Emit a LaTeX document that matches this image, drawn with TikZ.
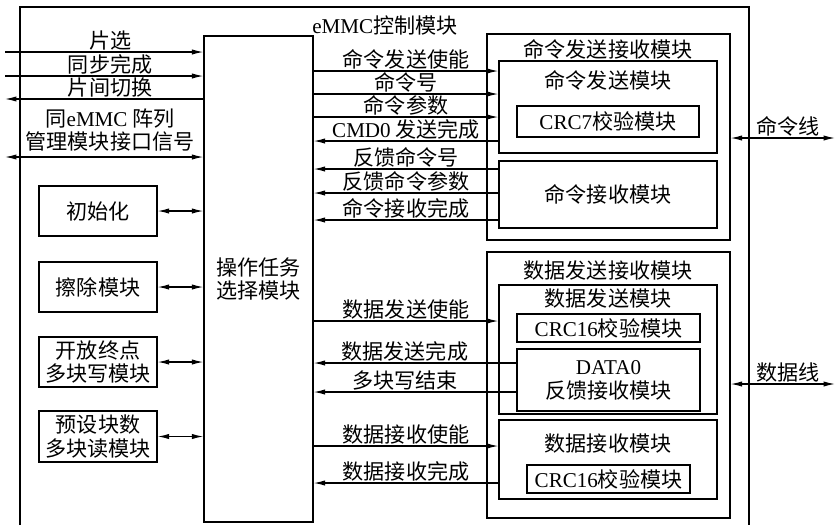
\documentclass[tikz,border=0pt]{standalone}
\usepackage{fontspec}
\setmainfont{Liberation Serif}
\newfontfamily\cjk{Noto Sans CJK SC}
\newcommand\zhfont{\cjk\fontsize{12}{13.5}\selectfont}
\usetikzlibrary{arrows.meta,fit}

\begin{document}
\begin{tikzpicture}[x=0.02cm, y=-0.02cm, line width=0.7pt,
  every node/.style={font=\zhfont},
  box/.style={draw, inner sep=0pt},
  lab/.style={anchor=south, inner sep=0.6pt},
  sig/.style={-{Latex[length=6.5pt,width=3pt]}},
  bisig/.style={{Latex[length=6.5pt,width=3pt]}-{Latex[length=6.5pt,width=3pt]}}]

\useasboundingbox (0,0) rectangle (837,525);

% ----------------- Outer frame -----------------
\draw (20,525) -- (20,7) -- (749,7) -- (749,525);
\node (title) at (385,25) {\textrm{eMMC}控制模块};

% ----------------- Task selection + left modules -----------------
\node[box, fit={(204,36) (313,522)}] (op) {};
\node[align=center] (opT) at (op.center) {操作任务\\选择模块};

\node[box, fit={(39,186) (157,236)}] (init) {};
\node (initT) at (init.center) {初始化};
\node[box, fit={(39,262) (157,312)}] (erase) {};
\node (eraseT) at (erase.center) {擦除模块};
\node[box, fit={(39,337) (157,387)}] (mwrite) {};
\node[align=center] (mwriteT) at (mwrite.center) {开放终点\\多块写模块};
\node[box, fit={(39,411) (157,462)}] (mread) {};
\node[align=center] (mreadT) at (mread.center) {预设块数\\多块读模块};

% ----------------- Command send/receive -----------------
\node[box, fit={(487,34) (730,240)}] (cmdtr) {};
\node (cmdtrT) at (608,49) {命令发送接收模块};
\node[box, fit={(499,61) (717,153)}] (cmdsend) {};
\node (cmdsendT) at (608,80) {命令发送模块};
\node[box, fit={(517,106) (699,137)}] (crcseven) {};
\node (crcsevenT) at (crcseven.center) {\textrm{CRC7}校验模块};
\node[box, fit={(499,161) (717,228)}] (cmdrecv) {};
\node (cmdrecvT) at (cmdrecv.center) {命令接收模块};

% ----------------- Data send/receive -----------------
\node[box, fit={(487,252) (730,518)}] (datatr) {};
\node (datatrT) at (608,270) {数据发送接收模块};
\node[box, fit={(499,285) (717,414)}] (datasend) {};
\node (datasendT) at (608,298) {数据发送模块};
\node[box, fit={(517,314) (700,342)}] (crcsend) {};
\node (crcsendT) at (crcsend.center) {\textrm{CRC16}校验模块};
\node[box, fit={(517,349) (700,411)}] (dataz) {};
\node[align=center] (datazT) at (dataz.center) {\textrm{DATA0}\\反馈接收模块};
\node[box, fit={(499,420) (717,499)}] (datarecv) {};
\node (datarecvT) at (608,443) {数据接收模块};
\node[box, fit={(527,465) (690,493)}] (crcrecv) {};
\node (crcrecvT) at (crcrecv.center) {\textrm{CRC16}校验模块};

% ----------------- Signal rows -----------------
\foreach \n/\y in {lA/52, lB/76, lC/99, lD/157,
                   cA/71, cB/94, cC/117, cD/141, cE/169, cF/193, cG/220,
                   dA/321, dB/363, dC/392, dD/446, dE/483}
  \coordinate (\n) at (5,\y);
\coordinate (cmdEnd) at (835,138);
\coordinate (dataEnd) at (835,384);

% left interface signals
\draw[sig] (lA) -- node[lab, pos=0.53] (tlA) {片选} (op.west |- lA);
\draw[sig] (lB) -- node[lab, pos=0.53] (tlB) {同步完成} (op.west |- lB);
\draw[sig] (op.west |- lC) -- node[lab, pos=0.47] (tlC) {片间切换} (lC);
\draw[bisig] (lD) -- (op.west |- lD);
\node[align=center] (tlD) at (110,130) {同\textrm{eMMC} 阵列\\管理模块接口信号};

% left modules
\draw[bisig] (init) -- (op.west |- init);
\draw[bisig] (erase) -- (op.west |- erase);
\draw[bisig] (mwrite) -- (op.west |- mwrite);
\draw[bisig] (mread) -- (op.west |- mread);

% command signals
\draw[sig] (op.east |- cA) -- node[lab] (tcA) {命令发送使能} (cmdsend.west |- cA);
\draw[sig] (op.east |- cB) -- node[lab] (tcB) {命令号} (cmdsend.west |- cB);
\draw[sig] (op.east |- cC) -- node[lab] (tcC) {命令参数} (cmdsend.west |- cC);
\draw[sig] (cmdsend.west |- cD) -- node[lab] (tcD) {\textrm{CMD0} 发送完成} (op.east |- cD);
\draw[sig] (cmdrecv.west |- cE) -- node[lab] (tcE) {反馈命令号} (op.east |- cE);
\draw[sig] (cmdrecv.west |- cF) -- node[lab] (tcF) {反馈命令参数} (op.east |- cF);
\draw[sig] (cmdrecv.west |- cG) -- node[lab] (tcG) {命令接收完成} (op.east |- cG);

% data signals
\draw[sig] (op.east |- dA) -- node[lab] (tdA) {数据发送使能} (datasend.west |- dA);
\draw[sig] (dataz.west |- dB) -- node[lab, pos=0.55] (tdB) {数据发送完成} (op.east |- dB);
\draw[sig] (dataz.west |- dC) -- node[lab, pos=0.55] (tdC) {多块写结束} (op.east |- dC);
\draw[sig] (op.east |- dD) -- node[lab] (tdD) {数据接收使能} (datarecv.west |- dD);
\draw[sig] (datarecv.west |- dE) -- node[lab] (tdE) {数据接收完成} (op.east |- dE);

% external lines
\draw[bisig] (cmdtr.east |- cmdEnd) -- node[lab, pos=0.55] (tcmd) {命令线} (cmdEnd);
\draw[bisig] (datatr.east |- dataEnd) -- node[lab, pos=0.55] (tdata) {数据线} (dataEnd);

\end{tikzpicture}
\end{document}
